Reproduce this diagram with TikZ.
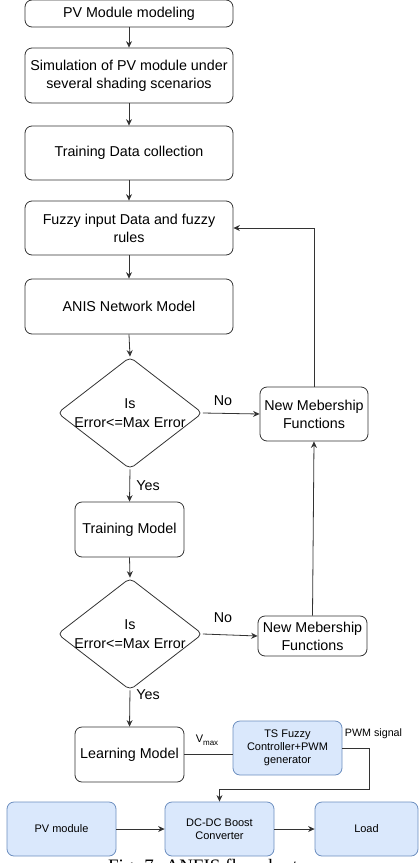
\documentclass[tikz,border=0pt]{standalone}
\usepackage{fontspec}
\setmainfont{Liberation Sans}
\newfontfamily\capfont{Liberation Serif}
\usetikzlibrary{arrows.meta,shapes.geometric}
\definecolor{edge}{HTML}{333333}
\definecolor{bfill}{HTML}{DAE8FC}
\definecolor{bdraw}{HTML}{6C8EBF}
\tikzset{
  box/.style={draw=edge, line width=0.8pt, rounded corners=7pt, fill=white, align=center,
    inner sep=0pt, font=\fontsize{14.3}{18}\selectfont},
  bluebox/.style={draw=bdraw, line width=0.8pt, rounded corners=7pt, fill=bfill, align=center,
    inner sep=0pt, font=\fontsize{11}{13}\selectfont},
  dia/.style={draw=edge, line width=0.8pt, diamond, rounded corners=5pt, inner sep=0pt},
  txt/.style={align=center, inner sep=0pt, font=\fontsize{14.3}{19}\selectfont},
  lbl/.style={inner sep=0pt, font=\fontsize{14.3}{18}\selectfont},
  arr/.style={draw=edge, line width=0.8pt, -{Stealth[length=6.5pt,width=6pt]}},
  ln/.style={draw=edge, line width=0.8pt},
}
\begin{document}
\begin{tikzpicture}[x=1pt,y=-1pt]
\useasboundingbox (0,0) rectangle (420,863);
% main column
\node[box, minimum width=208, minimum height=27] (n1) at (129,13.5) {PV Module modeling};
\node[box, minimum width=208, minimum height=55] (n2) at (129,75.5) {Simulation of PV module under\\several shading scenarios};
\node[box, minimum width=208, minimum height=54] (n3) at (129,153) {Training Data collection};
\node[box, minimum width=208, minimum height=54] (n4) at (129,228) {Fuzzy input Data and fuzzy\\rules};
\node[box, minimum width=208, minimum height=55] (n5) at (129,306.5) {ANIS Network Model};
\node[dia, minimum width=145, minimum height=112] (d1) at (130,413) {};
\node[txt] (d1t) at (130,413) {Is\\Error<=Max Error};
\node[box, minimum width=108, minimum height=54] (m1) at (314,414) {New Mebership\\Functions};
\node[box, minimum width=109, minimum height=55] (t1) at (129.5,529.5) {Training Model};
\node[dia, minimum width=145, minimum height=112] (d2) at (130,634) {};
\node[txt] (d2t) at (130,634) {Is\\Error<=Max Error};
\node[box, minimum width=109, minimum height=40] (m2) at (312.5,636) {New Mebership\\Functions};
\node[box, minimum width=109, minimum height=55] (l1) at (129.5,754.5) {Learning Model};
\node[bluebox, minimum width=109, minimum height=54] (ts) at (287.5,748) {TS Fuzzy\\Controller+PWM\\generator};
\node[bluebox, minimum width=109, minimum height=54] (pv) at (61.5,829) {PV module};
\node[bluebox, minimum width=109, minimum height=54] (dc) at (219.5,829) {DC-DC Boost\\Converter};
\node[bluebox, minimum width=103, minimum height=54] (ld) at (366.5,829) {Load};
% labels
\node[lbl] (no1) at (223,401) {No};
\node[lbl] (yes1) at (148,486) {Yes};
\node[lbl] (no2) at (223,618) {No};
\node[lbl] (yes2) at (148,695) {Yes};
\node[inner sep=0pt, font=\fontsize{11}{13}\selectfont] (vmax) at (207,740) {V\raisebox{-2.5pt}{\fontsize{8}{8}\selectfont max}};
\node[inner sep=0pt, font=\fontsize{10.7}{13}\selectfont] (pwm) at (373.5,734) {PWM signal};
\node[inner sep=0pt, font=\capfont\fontsize{19}{22}\selectfont, anchor=base] (cap) at (203,872) {Fig. 7: ANFIS flowchart};
% connectors
\draw[arr] (n1) -- (n2);
\draw[arr] (n2) -- (n3);
\draw[arr] (n3) -- (n4);
\draw[arr] (n4) -- (n5);
\draw[arr] (n5.south) -- (d1.north);
\draw[arr] (d1.east) -- (m1.west);
\draw[arr] (m1.north) |- (n4.east);
\draw[arr] (d1.south) -- (t1.north);
\draw[arr] (t1.south) -- (d2.north);
\draw[arr] (d2.east) -- (m2.west);
\draw[arr] (m2.north) -- (m1.south);
\draw[arr] (d2.south) -- (l1.north);
\draw[ln] (l1.east) -- (l1.east -| ts.west);
\coordinate (p1) at (369,789);
\draw[arr] (ts.east) -| (p1) -| (dc.north);
\draw[arr] (pv) -- (dc);
\draw[arr] (dc) -- (ld);
\end{tikzpicture}
\end{document}
